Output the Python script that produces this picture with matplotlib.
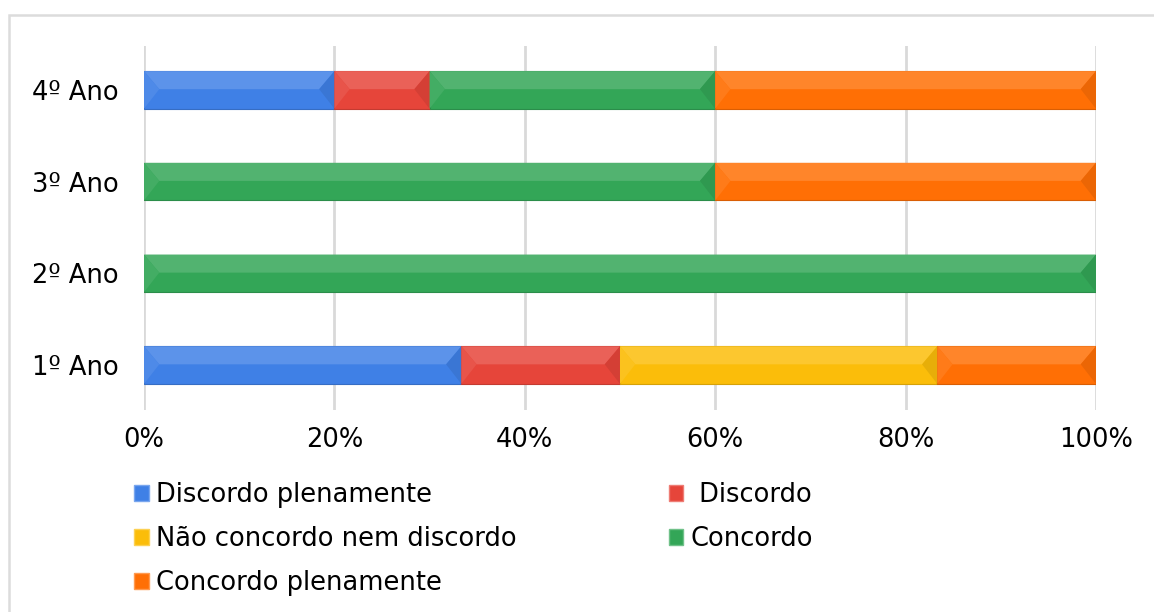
import numpy as np
import matplotlib
matplotlib.use("Agg")
import matplotlib.pyplot as plt
from matplotlib.patches import Polygon, Rectangle, Patch
from matplotlib.ticker import PercentFormatter
import matplotlib.colors as mcolors

plt.rcParams['font.family'] = ['DejaVu Sans']

# dados (fração de respostas por ano)
anos = ['1º Ano', '2º Ano', '3º Ano', '4º Ano']
discordo_plen = [1/3, 0.0, 0.0, 0.20]
discordo = [1/6, 0.0, 0.0, 0.10]
neutro = [1/3, 0.0, 0.0, 0.0]
concordo = [0.0, 1.0, 0.60, 0.30]
concordo_plen = [1/6, 0.0, 0.40, 0.40]

series = [discordo_plen, discordo, neutro, concordo, concordo_plen]
nomes = ['Discordo plenamente', ' Discordo', 'Não concordo nem discordo',
         'Concordo', 'Concordo plenamente']
cores = ['#3f80e6', '#e6453a', '#fbbd0a', '#33a657', '#ff6f05']


def clarear(c, f):
    rgb = np.array(mcolors.to_rgb(c))
    return tuple(rgb + (1 - rgb) * f)


def escurecer(c, f):
    rgb = np.array(mcolors.to_rgb(c))
    return tuple(rgb * (1 - f))


fig = plt.figure(figsize=(11.54, 6.12), dpi=100)
ax = fig.add_axes([0.1248, 0.33, 0.8249, 0.595])

y = np.arange(len(anos))
h = 0.41
dx = 0.016   # tamanho do chanfro em x
esq = np.zeros(len(anos))
for vals, cor in zip(series, cores):
    vals = np.array(vals)
    ax.barh(y, vals, left=esq, height=h, color=cor, edgecolor=escurecer(cor, 0.15),
            linewidth=0.8, zorder=3)
    # efeito chanfrado
    for yi, l, w in zip(y, esq, vals):
        if w <= 0:
            continue
        top, bot = yi + h / 2, yi - h / 2
        mid = yi + h * 0.02
        r = l + w
        d = min(dx, w / 3)
        ax.add_patch(Polygon([(l, top), (r, top), (r - d, mid), (l + d, mid)],
                             closed=True, color=clarear(cor, 0.15), lw=0, zorder=4))
        ax.add_patch(Polygon([(l, top), (l + d, mid), (l, bot)],
                             closed=True, color=clarear(cor, 0.08), lw=0, zorder=4))
        ax.add_patch(Polygon([(r, top), (r - d, mid), (r, bot)],
                             closed=True, color=escurecer(cor, 0.08), lw=0, zorder=4))
    esq = esq + vals

ax.set_xlim(0, 1)
ax.set_ylim(-0.49, 3.48)
ax.set_yticks(y)
ax.set_yticklabels(anos, fontsize=18.5)
ax.set_xticks(np.arange(0, 1.01, 0.2))
ax.xaxis.set_major_formatter(PercentFormatter(1.0, decimals=0))
ax.tick_params(axis='x', labelsize=18.5, length=0, pad=12)
ax.tick_params(axis='y', length=0, pad=18)
ax.grid(axis='x', color='#d9d9d9', linewidth=2, zorder=0)
for s in ax.spines.values():
    s.set_visible(False)

# moldura cinza (cortada à direita e embaixo)
fig.patches.append(Rectangle((9 / 1154, -0.1), 1.2, 1 - 15 / 612 + 0.1,
                             transform=fig.transFigure, fill=False,
                             edgecolor='#dcdcdc', linewidth=1.8))

ordem = [0, 2, 4, 1, 3]
handles = [Patch(facecolor=cores[i], edgecolor=clarear(cores[i], 0.3)) for i in ordem]
labels = [nomes[i] for i in ordem]
fig.legend(handles, labels, ncol=2, loc='upper left',
           bbox_to_anchor=(134 / 1154, 1 - 482 / 612), frameon=False,
           fontsize=18.5, handlelength=0.57, handleheight=0.57, handletextpad=0.3,
           columnspacing=5.9, labelspacing=0.7, borderpad=0, borderaxespad=0)

fig.savefig('out.png', dpi=100, facecolor='white')
